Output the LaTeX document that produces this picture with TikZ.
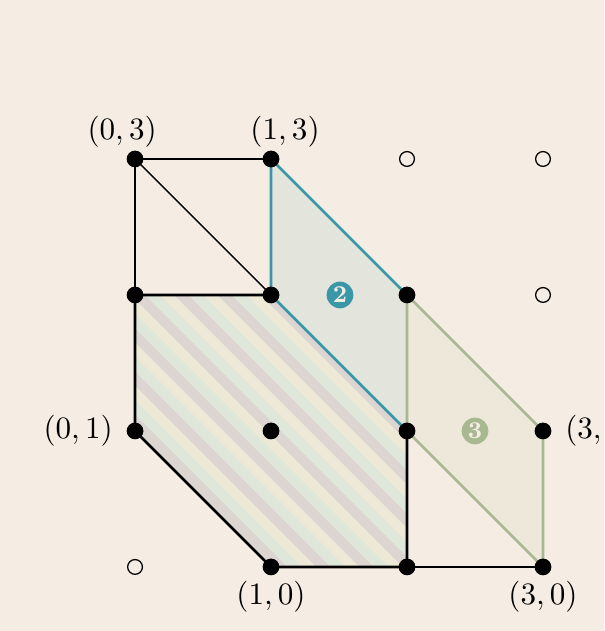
\documentclass[tikz,border=0pt]{standalone}
\usetikzlibrary{calc}
\definecolor{bg}{HTML}{F5EDE3}
\definecolor{teal2}{HTML}{3A97A8}
\definecolor{sage}{HTML}{A8B991}
\definecolor{fillA}{HTML}{E3E5DC}
\definecolor{fillB}{HTML}{EEE8DA}
\definecolor{hgray}{HTML}{DCD5D1}
\definecolor{hcream}{HTML}{EDE9D6}
\definecolor{hgreen}{HTML}{DEE7DA}
\tikzset{
  thinedge/.style={line width=0.47pt, black},
  thickedge/.style={line width=0.95pt, black, line join=round},
  tealedge/.style={line width=0.95pt, teal2, line join=round},
  sageedge/.style={line width=0.95pt, sage, line join=round},
  fulldot/.style={circle, fill=black, inner sep=0pt, minimum size=5.9pt},
  emptydot/.style={circle, draw=black, line width=0.45pt, fill=bg, inner sep=0pt, minimum size=5.2pt},
  ptlabel/.style={inner sep=0pt, font=\fontsize{10.7pt}{13pt}\selectfont},
  badge/.style={circle, inner sep=0pt, minimum size=9.4pt, text=bg, font=\fontsize{8.5pt}{10pt}\selectfont\bfseries}
}
\begin{document}
\begin{tikzpicture}[x=47.87pt, y=47.87pt]
\fill[bg] (-0.993,-0.471) rectangle (3.449,4.169);
\useasboundingbox (-0.993,-0.471) rectangle (3.449,4.169);
% coordinates
\foreach \i in {0,1,2,3}{\foreach \j in {0,1,2,3}{\coordinate (p\i\j) at (\i,\j);}}
% region fills
\fill[fillA] (p13) -- (p22) -- (p21) -- (p12) -- cycle;
\fill[fillB] (p22) -- (p31) -- (p30) -- (p21) -- cycle;
% hatched region
\begin{scope}
  \clip (p02) -- (p12) -- (p21) -- (p20) -- (p10) -- (p01) -- cycle;
  \fill[hcream] (-0.1,-0.1) rectangle (2.1,2.1);
  \foreach \k in {0,...,14}{
    \pgfmathsetmacro{\c}{0.75+\k*0.318}
    \draw[hgray, line width=3.6pt] (\c-3,3) -- (\c+0.5,-0.5);
    \draw[hgreen, line width=3.6pt] (\c-3+0.053,3+0.053) -- (\c+0.5+0.053,-0.5+0.053);
  }
\end{scope}
% thin black edges
\draw[thinedge] (p03) -- (p13);
\draw[thinedge] (p03) -- (p02);
\draw[thinedge] (p03) -- (p12);
\draw[thinedge] (p20) -- (p30);
% hatched outline
\draw[thickedge] (p12) -- (p02) -- (p01) -- (p10) -- (p20) -- (p21);
% region 2 edges
\draw[tealedge] (p12) -- (p13) -- (p22);
\draw[tealedge] (p12) -- (p21);
% region 3 edges
\draw[sageedge] (p21) -- (p22) -- (p31) -- (p30) -- cycle;
% dots
\foreach \n in {p03,p13,p02,p12,p22,p01,p11,p21,p31,p10,p20,p30}{\node[fulldot] at (\n) {};}
\foreach \n in {p23,p33,p32,p00}{\node[emptydot] at (\n) {};}
% badges
\node[badge, fill=teal2] (b2) at (1.507,2) {2};
\node[badge, fill=sage] (b3) at (2.5,1) {3};
% labels
\node[ptlabel] (l03) at ($(p03)+(-0.095,0.2)$) {$(0,3)$};
\node[ptlabel] (l13) at ($(p13)+(0.103,0.2)$) {$(1,3)$};
\node[ptlabel, anchor=east] (l01) at ($(p01)+(-0.16,0)$) {$(0,1)$};
\node[ptlabel, anchor=west] (l31) at ($(p31)+(0.16,0)$) {$(3,1)$};
\node[ptlabel] (l10) at ($(p10)+(0,-0.22)$) {$(1,0)$};
\node[ptlabel] (l30) at ($(p30)+(0,-0.22)$) {$(3,0)$};
\end{tikzpicture}
\end{document}
